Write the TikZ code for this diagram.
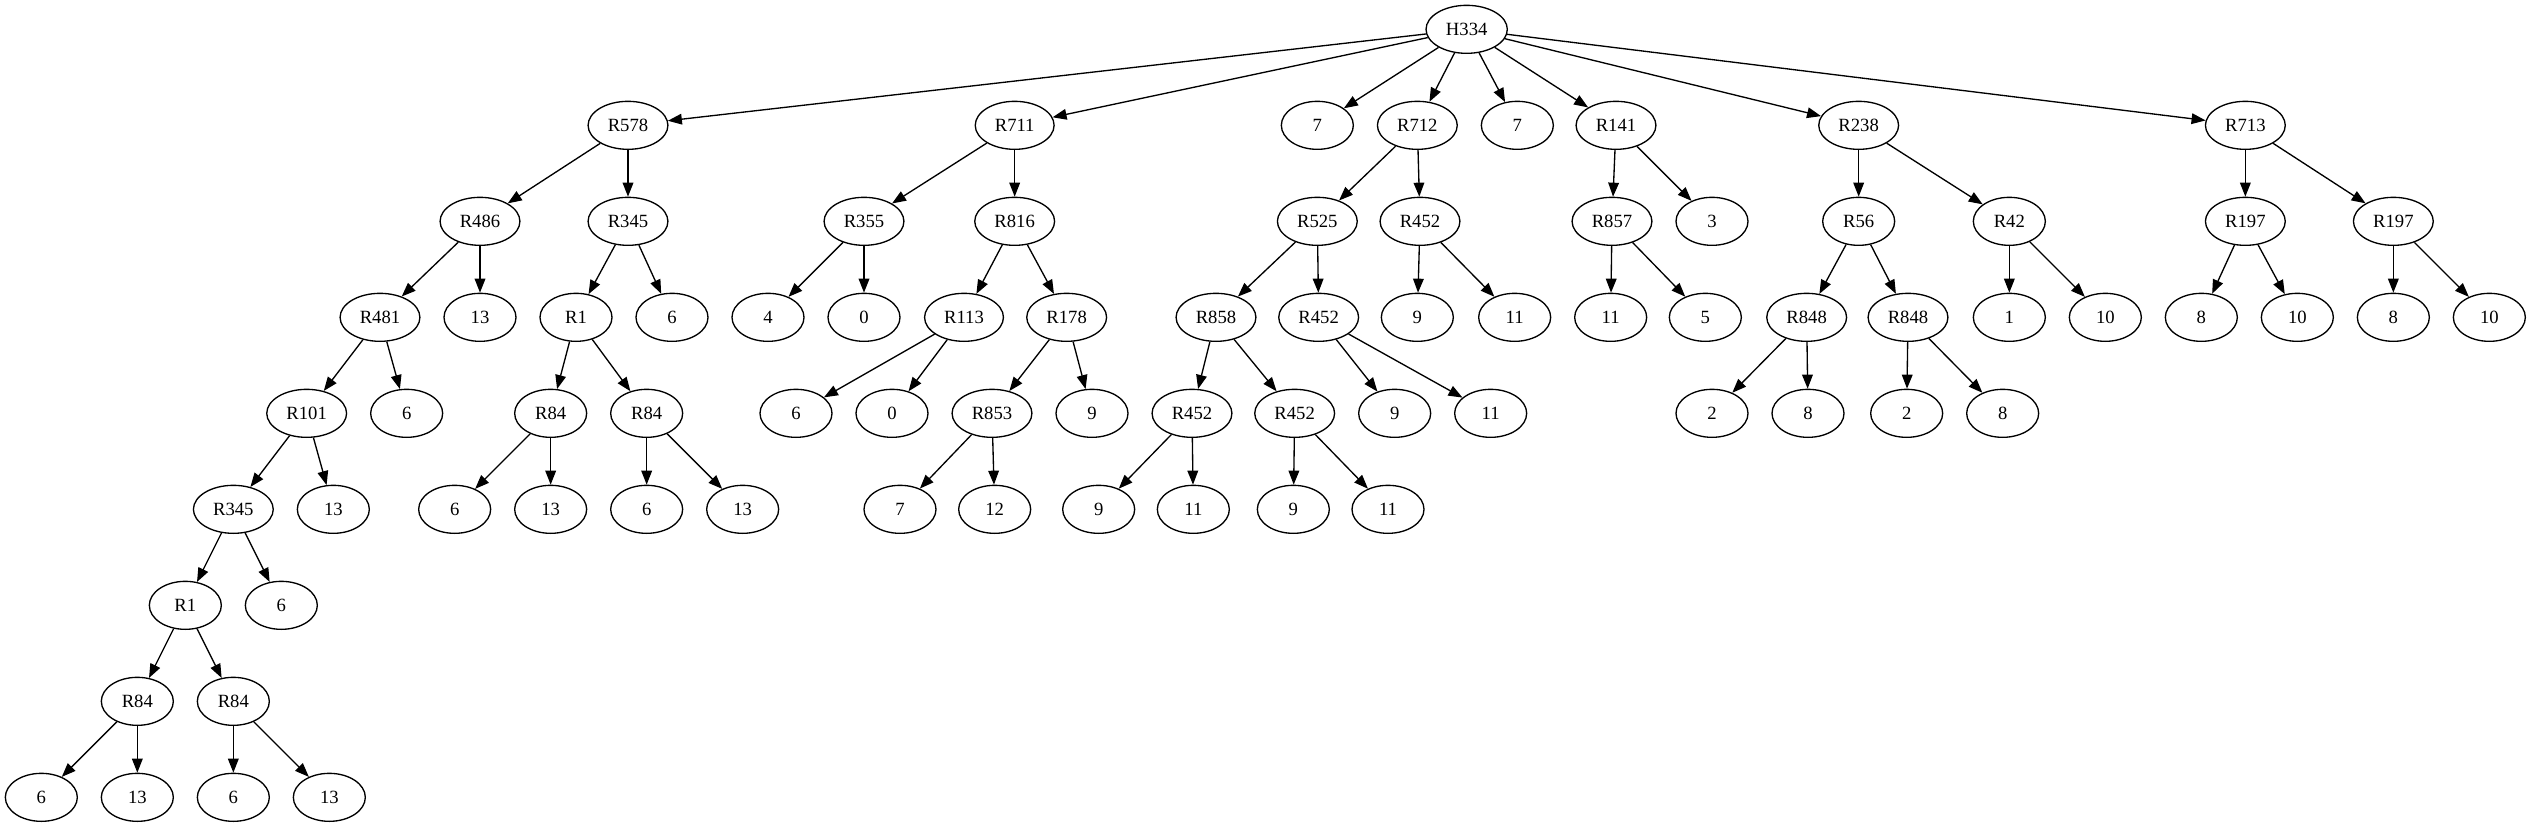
\documentclass[tikz,border=0pt]{standalone}
\usepackage{fontspec}
\setmainfont{Liberation Serif}
\usetikzlibrary{shapes.geometric,arrows.meta}
\tikzset{
  nd/.style={draw, ellipse, line width=1pt, minimum width=54pt, minimum height=36pt,
    inner xsep=6pt, inner ysep=2pt, font=\fontsize{14}{16}\selectfont},
  edge/.style={line width=1pt, -{Triangle[length=10.5pt,width=8pt]}}
}
\begin{document}
\begin{tikzpicture}[x=1pt,y=1pt]
\useasboundingbox (0,0) rectangle (1898.25,-620.25);
% rank 0
\node[nd] (h) at (1100,-22) {H334};
% rank 1
\foreach \n/\x/\t in {r578/471/R578, r711/761/R711, s7a/988/7, r712/1063/R712, s7b/1138/7, r141/1212/R141, r238/1394/R238, r713/1684/R713}
  \node[nd] (\n) at (\x,-94) {\t};
% rank 2
\foreach \n/\x/\t in {r486/360/R486, r345/471/R345, r355/648/R355, r816/761/R816, r525/988/R525, r452a/1065/R452, r857/1209/R857, s3/1284/3, r56/1394/R56, r42/1507/R42, r197a/1684/R197, r197b/1795/R197}
  \node[nd] (\n) at (\x,-166) {\t};
% rank 3
\foreach \n/\x/\t in {r481/285/R481, s13a/360/13, r1a/432/R1, s6a/504/6, s4/576/4, s0a/648/0, r113/723/R113, r178/800/R178, r858/912/R858, r452b/989/R452, s9a/1063/9, s11a/1136/11, s11b/1208/11, s5/1279/5, r848a/1355/R848, r848b/1431/R848, s1/1507/1, s10a/1579/10, s8a/1651/8, s10b/1723/10, s8b/1795/8, s10c/1867/10}
  \node[nd] (\n) at (\x,-238) {\t};
% rank 4
\foreach \n/\x/\t in {r101/230/R101, s6b/305/6, r84a/413/R84, r84b/485/R84, s6c/597/6, s0b/669/0, r853/744/R853, s9b/819/9, r452c/894/R452, r452d/971/R452, s9c/1046/9, s11c/1118/11, s2a/1284/2, s8c/1356/8, s2b/1430/2, s8d/1502/8}
  \node[nd] (\n) at (\x,-310) {\t};
% rank 5
\foreach \n/\x/\t in {r345b/175/R345, s13b/250/13, s6d/341/6, s13c/413/13, s6e/485/6, s13d/557/13, s7c/675/7, s12/746/12, s9d/824/9, s11d/895/11, s9e/970/9, s11e/1041/11}
  \node[nd] (\n) at (\x,-382) {\t};
% rank 6
\node[nd] (r1b) at (139,-454) {R1};
\node[nd] (s6f) at (211,-454) {6};
% rank 7
\node[nd] (r84c) at (103,-526) {R84};
\node[nd] (r84d) at (175,-526) {R84};
% rank 8
\node[nd] (s6g) at (31,-598) {6};
\node[nd] (s13e) at (103,-598) {13};
\node[nd] (s6h) at (175,-598) {6};
\node[nd] (s13f) at (247,-598) {13};
% edges
\foreach \a/\b in {h/r578, h/r711, h/s7a, h/r712, h/s7b, h/r141, h/r238, h/r713,
  r578/r486, r578/r345, r486/r481, r486/s13a, r481/r101, r481/s6b,
  r101/r345b, r101/s13b, r345b/r1b, r345b/s6f, r1b/r84c, r1b/r84d,
  r84c/s6g, r84c/s13e, r84d/s6h, r84d/s13f,
  r345/r1a, r345/s6a, r1a/r84a, r1a/r84b, r84a/s6d, r84a/s13c, r84b/s6e, r84b/s13d,
  r711/r355, r711/r816, r355/s4, r355/s0a, r816/r113, r816/r178,
  r113/s6c, r113/s0b, r178/r853, r178/s9b, r853/s7c, r853/s12,
  r712/r525, r712/r452a, r525/r858, r525/r452b, r858/r452c, r858/r452d,
  r452c/s9d, r452c/s11d, r452d/s9e, r452d/s11e, r452b/s9c, r452b/s11c,
  r452a/s9a, r452a/s11a, r141/r857, r141/s3, r857/s11b, r857/s5,
  r238/r56, r238/r42, r56/r848a, r56/r848b, r848a/s2a, r848a/s8c,
  r848b/s2b, r848b/s8d, r42/s1, r42/s10a,
  r713/r197a, r713/r197b, r197a/s8a, r197a/s10b, r197b/s8b, r197b/s10c}
  \draw[edge] (\a) -- (\b);
\end{tikzpicture}
\end{document}
